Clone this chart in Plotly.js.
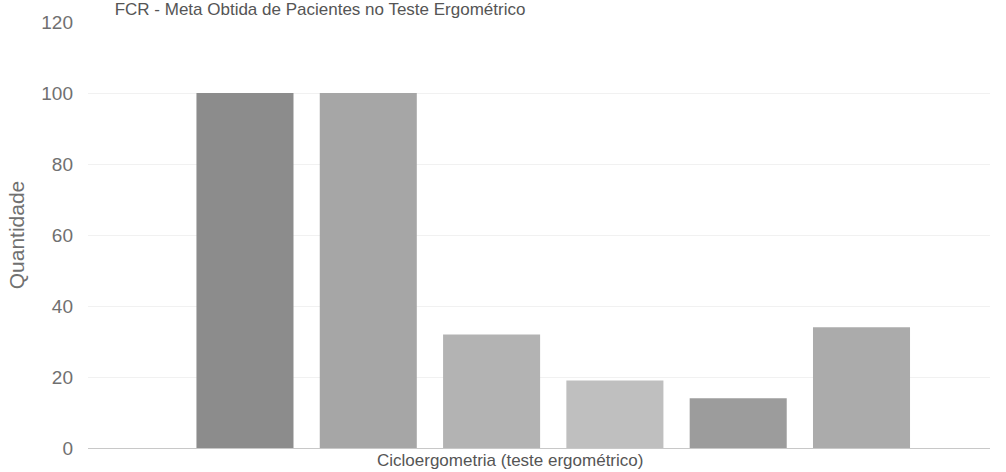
<!DOCTYPE html>
<html>
<head>
<meta charset="utf-8">
<script src="https://cdn.plot.ly/plotly-3.0.1.min.js"></script>
<style>html,body{margin:0;padding:0;background:#fff;}</style>
</head>
<body>
<div id="chart" style="width:1006px;height:472px;"></div>
<script>
const chartTitle = "FCR - Meta Obtida de Pacientes no Teste Ergométrico";
const groupLabel = "Cicloergometria (teste ergométrico)";
const categories = ["Série 1", "Série 2", "Série 3", "Série 4", "Série 5", "Série 6"];
const values = [100, 100, 32, 19, 14, 34];
const barColors = ["#8c8c8c", "#a6a6a6", "#b3b3b3", "#bfbfbf", "#9c9c9c", "#ababab"];
const yTicks = [0, 20, 40, 60, 80, 100, 120];

const trace = {
  type: "bar",
  x: categories,
  y: values,
  width: 0.787,
  marker: {color: barColors, line: {width: 0}},
  hoverinfo: "x+y",
  showlegend: false
};

const layout = {
  width: 1006,
  height: 472,
  paper_bgcolor: "#ffffff",
  plot_bgcolor: "#ffffff",
  margin: {l: 88, r: 16, t: 22, b: 24},
  font: {family: "Liberation Sans, Arial, sans-serif", color: "#666"},
  title: {
    text: chartTitle,
    font: {size: 17, color: "#555"},
    xref: "container", yref: "container",
    x: 0.114, xanchor: "left",
    y: 1, yanchor: "top",
    pad: {t: 3, b: 0, l: 0, r: 0}
  },
  xaxis: {
    type: "category",
    range: [-1.273, 6.042],
    showticklabels: false,
    showgrid: false,
    zeroline: false,
    showline: false,
    ticks: ""
  },
  yaxis: {
    range: [0, 120],
    tickvals: yTicks,
    ticktext: yTicks.map(String),
    tickfont: {size: 19, color: "#707070"},
    ticklabelstandoff: 14,
    showgrid: true,
    gridcolor: "#f1f1f1",
    gridwidth: 1,
    zeroline: true,
    zerolinecolor: "#c8c8c8",
    zerolinewidth: 1,
    showline: false,
    ticks: "",
    title: {text: "Quantidade", font: {size: 21, color: "#707070"}, standoff: 10}
  },
  annotations: [{
    text: groupLabel,
    xref: "paper", yref: "paper",
    x: 0.468, y: 0, xanchor: "center", yanchor: "top",
    yshift: -1,
    showarrow: false,
    font: {size: 17, color: "#555"}
  }]
};

Plotly.newPlot("chart", [trace], layout, {displayModeBar: false, staticPlot: true});
</script>
</body>
</html>
